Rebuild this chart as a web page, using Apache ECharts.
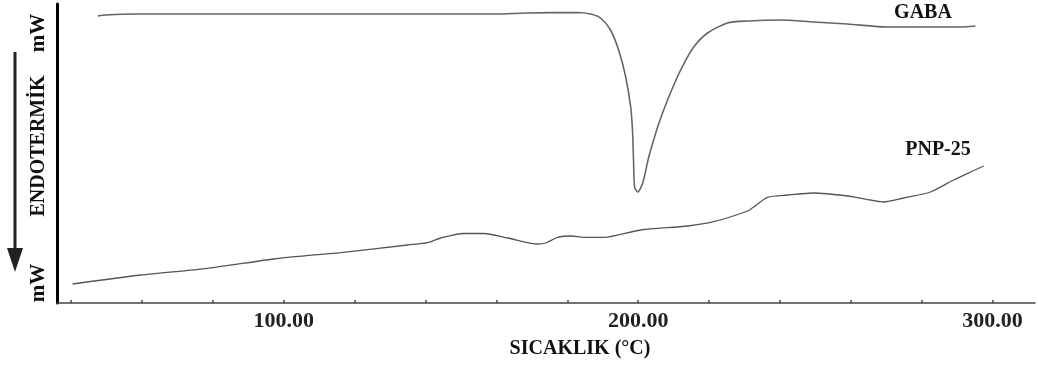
<!DOCTYPE html>
<html>
<head>
<meta charset="utf-8">
<script src="https://cdn.jsdelivr.net/npm/echarts@6/dist/echarts.min.js"></script>
<style>
html,body{margin:0;padding:0;background:#fff;}
#chart{width:1038px;height:367px;}
</style>
</head>
<body>
<div id="chart"></div>
<script>
// Temperature (°C) values
const gabaT = [47.5, 49.8, 58.3, 104.8, 160.0, 168.3, 182.9, 186.6, 189.4, 192.2, 194.5, 196.5, 197.9, 198.4, 198.7, 199.0, 199.9, 201.3, 203.0, 205.5, 208.3, 212.0, 215.7, 219.6, 225.2, 230.9, 240.2, 249.5, 259.1, 270.4, 291.0, 295.2];
// Heat flow (arbitrary mW units, endothermic downward)
const gabaV = [287, 288, 289, 289, 289, 290, 290.5, 289, 285, 273, 253, 226, 196, 173, 143, 116, 111, 120, 146, 176, 203, 233, 256, 270, 280, 282, 283, 281, 279, 276, 276, 277];

const pnpT = [40.4, 59.7, 78.5, 97.2, 110.4, 116.1, 134.9, 140.6, 144.3, 150.8, 156.4, 163.2, 171.7, 173.9, 177.3, 181.0, 184.6, 190.3, 200.7, 214.0, 221.3, 230.9, 232.6, 236.5, 242.2, 249.5, 259.1, 265.6, 269.3, 274.9, 282.5, 289.0, 293.8, 297.5];
const pnpV = [19, 28, 34.7, 44, 48.7, 50.3, 58, 60.3, 65, 69.5, 69.5, 65, 59, 60, 65.7, 67, 65.7, 65.7, 73, 77, 81.3, 92, 96, 105.7, 108, 110, 107, 103, 101, 105, 111, 123, 131, 137];

const xTicks = [40, 60, 80, 100, 120, 140, 160, 180, 200, 220, 240, 260, 280, 300];
const xLabels = [100, 200, 300];
const seriesNames = ['GABA', 'PNP-25'];
const xTitle = 'SICAKLIK (°C)';
const yTitle = 'ENDOTERMİK';
const yUnit = 'mW';

const zip = (a, b) => a.map((v, i) => [v, b[i]]);
const serif = '"Liberation Serif", "DejaVu Serif", serif';

const chart = echarts.init(document.getElementById('chart'));
chart.setOption({
  animation: false,
  backgroundColor: '#fff',
  grid: {left: 57, right: 3, top: 4, bottom: 64},
  xAxis: {
    type: 'value', min: 36, max: 312,
    axisLine: {show: true, lineStyle: {color: '#444', width: 1.5}},
    axisTick: {show: true, inside: true, length: 3, customValues: xTicks, lineStyle: {color: '#444', width: 1.5}},
    axisLabel: {show: true, customValues: xLabels, formatter: v => v.toFixed(2), margin: 7,
      fontFamily: serif, fontWeight: 'bold', fontSize: 22, color: '#222'},
    splitLine: {show: false}
  },
  yAxis: {
    type: 'value', min: 0, max: 299,
    axisLine: {show: true, onZero: false, lineStyle: {color: '#000', width: 3}},
    axisTick: {show: false}, axisLabel: {show: false}, splitLine: {show: false}
  },
  series: [
    {name: seriesNames[0], type: 'line', data: zip(gabaT, gabaV), showSymbol: false, smooth: 0.25,
      lineStyle: {color: '#666', width: 1.6}},
    {name: seriesNames[1], type: 'line', data: zip(pnpT, pnpV), showSymbol: false, smooth: 0.25,
      lineStyle: {color: '#555', width: 1.3}}
  ],
  graphic: [
    {type: 'text', x: 923, y: 13, style: {text: seriesNames[0], font: 'bold 20px ' + serif, fill: '#111', align: 'center', verticalAlign: 'middle'}},
    {type: 'text', x: 938, y: 150, style: {text: seriesNames[1], font: 'bold 20px ' + serif, fill: '#111', align: 'center', verticalAlign: 'middle'}},
    {type: 'text', x: 580, y: 349, style: {text: xTitle, font: 'bold 20px ' + serif, fill: '#111', align: 'center', verticalAlign: 'middle'}},
    {type: 'text', x: 39, y: 146, rotation: Math.PI / 2, style: {text: yTitle, font: 'bold 20px ' + serif, fill: '#111', align: 'center', verticalAlign: 'middle'}},
    {type: 'text', x: 39, y: 33, rotation: Math.PI / 2, style: {text: yUnit, font: 'bold 21px ' + serif, fill: '#111', align: 'center', verticalAlign: 'middle'}},
    {type: 'text', x: 39, y: 283, rotation: Math.PI / 2, style: {text: yUnit, font: 'bold 21px ' + serif, fill: '#111', align: 'center', verticalAlign: 'middle'}},
    {type: 'line', shape: {x1: 15, y1: 52, x2: 15, y2: 252}, style: {stroke: '#222', lineWidth: 3}},
    {type: 'polygon', shape: {points: [[7, 248], [23, 248], [15, 272]]}, style: {fill: '#222'}}
  ]
});
</script>
</body>
</html>
